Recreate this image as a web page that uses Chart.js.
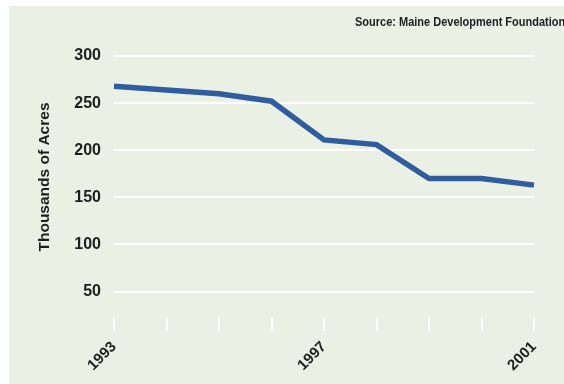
<!DOCTYPE html>
<html>
<head>
<meta charset="utf-8">
<script src="https://cdn.jsdelivr.net/npm/chart.js@4/dist/chart.umd.min.js"></script>
<style>
  html, body { margin: 0; padding: 0; background: #ffffff; }
  #wrap { position: relative; width: 564px; height: 384px; }
</style>
</head>
<body>
<div id="wrap"><canvas id="acresChart" width="564" height="384"></canvas></div>
<script>
// acres by year, thousands
let years = ["1993", "1994", "1995", "1996", "1997", "1998", "1999", "2000", "2001"];
let acres = [268, 264, 260, 252, 211, 206, 170, 170, 163];
let yTicks = [50, 100, 150, 200, 250, 300];
let shownYears = ["1993", "1997", "2001"];
let yTitle = "Thousands of Acres";
let sourceText = "Source: Maine Development Foundation";

const labelFont = "'Liberation Sans', Arial, sans-serif";

// light green panel, axis title and the source note
const panelPlugin = {
  id: "panel",
  beforeDraw(chart) {
    const ctx = chart.ctx;
    ctx.save();
    ctx.fillStyle = "#eaf0e4";
    ctx.fillRect(9, 6, chart.width - 9, chart.height - 6);
    ctx.restore();
  },
  afterDraw(chart) {
    const ctx = chart.ctx;
    ctx.save();
    ctx.fillStyle = "#1e1e1e";
    ctx.font = "bold 12.5px " + labelFont;
    ctx.textBaseline = "middle";
    ctx.textAlign = "left";
    // squeeze horizontally, the note is set in a condensed face
    ctx.translate(355, 23);
    ctx.scale(0.88, 1);
    ctx.fillText(sourceText, 0, 0);
    ctx.restore();

    // y title sits a bit above the middle of the plot
    ctx.save();
    ctx.fillStyle = "#1e1e1e";
    ctx.font = "bold 15.5px " + labelFont;
    ctx.textBaseline = "middle";
    ctx.textAlign = "center";
    ctx.translate(45, 177);
    ctx.rotate(-Math.PI / 2);
    ctx.fillText(yTitle, 0, 0);
    ctx.restore();
  }
};

const data = {
  labels: years,
  datasets: [
    {
      label: "Acres",
      data: acres,
      borderColor: "#2f5d9f",
      backgroundColor: "#2f5d9f",
      borderWidth: 5.5,
      pointRadius: 0,
      tension: 0,
      fill: false,
      borderJoinStyle: "miter"
    }
  ]
};

const config = {
  type: "line",
  data: data,
  options: {
    responsive: false,
    animation: false,
    layout: { padding: { left: 0, top: 56, right: 30, bottom: 0 } },
    plugins: {
      legend: { display: false },
      tooltip: { enabled: false }
    },
    scales: {
      x: {
        offset: false,
        border: { display: false },
        grid: {
          drawOnChartArea: false,
          drawTicks: true,
          tickLength: 13,
          color: "#ffffff",
          lineWidth: 2
        },
        ticks: {
          autoSkip: false,
          maxRotation: 45,
          minRotation: 45,
          padding: 7,
          color: "#1e1e1e",
          font: { family: labelFont, size: 15, weight: "bold" },
          callback: function (value, index) {
            let yr = years[index];
            return shownYears.includes(yr) ? yr : "";
          }
        },
        afterFit: function (scale) {
          scale.height = 66;
        }
      },
      y: {
        min: 22,
        max: 300,
        border: { display: false },
        grid: {
          color: "#ffffff",
          lineWidth: 2,
          drawTicks: false
        },
        ticks: {
          padding: 13,
          color: "#1e1e1e",
          font: { family: labelFont, size: 16, weight: "bold" }
        },
        afterBuildTicks: function (scale) {
          scale.ticks = yTicks.map((v) => ({ value: v }));
        },
        afterFit: function (scale) {
          scale.width = 114;
        }
      }
    }
  },
  plugins: [panelPlugin]
};

const acresChart = new Chart(document.getElementById("acresChart"), config);
</script>
</body>
</html>
